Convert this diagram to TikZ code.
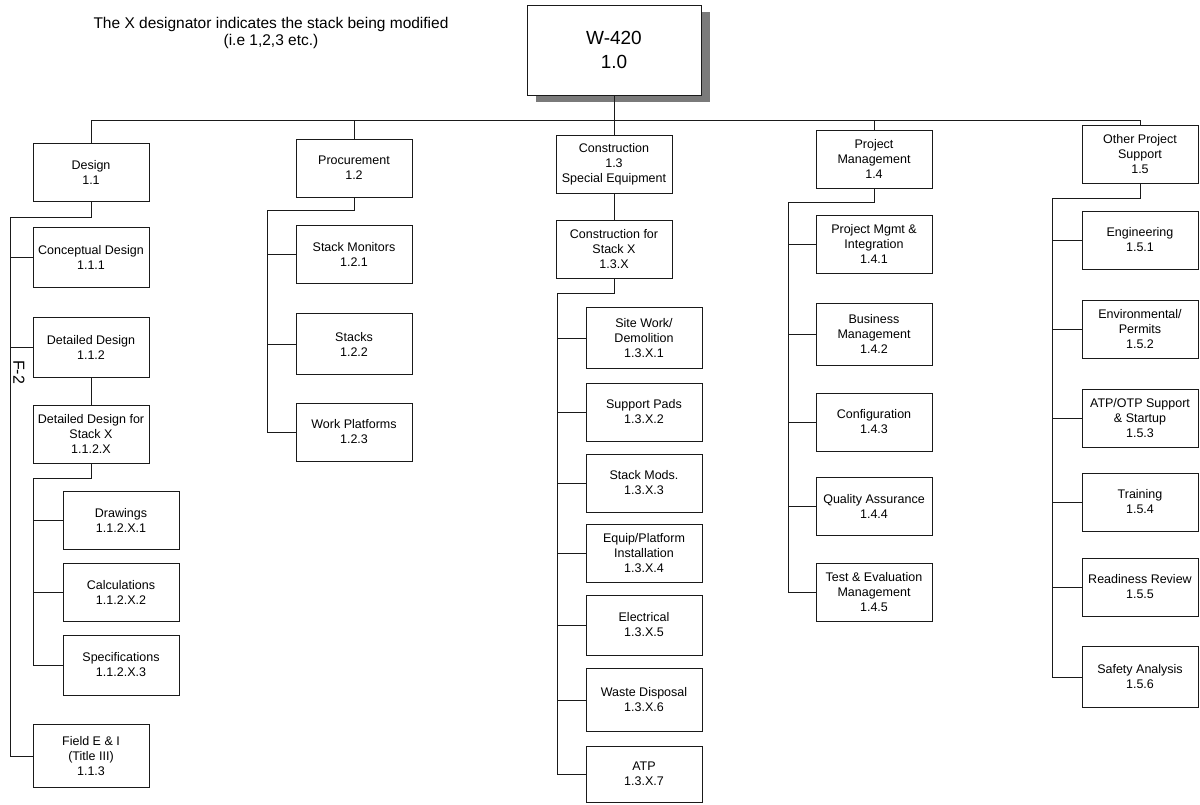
\documentclass[tikz,border=0pt]{standalone}
\usepackage{fontspec}
\setsansfont{Liberation Sans}
\usetikzlibrary{shadows}
\definecolor{inkline}{HTML}{1A1A1A}
\definecolor{shadegray}{HTML}{7A7A7A}
\tikzset{
  wbsbox/.style={rectangle, draw=inkline, fill=white, line width=0.9pt, minimum width=116pt, minimum height=58pt, inner sep=1pt, align=center, font=\sffamily\fontsize{12.5}{15}\selectfont},
  rootbox/.style={wbsbox, minimum width=174pt, minimum height=90pt, font=\sffamily\fontsize{19}{24}\selectfont, drop shadow={shadow xshift=9pt, shadow yshift=-7pt, fill=shadegray, opacity=1}},
  wbsline/.style={draw=inkline, line width=0.9pt},
  notetext/.style={align=center, font=\sffamily\fontsize{15.5}{17}\selectfont},
  sheetmark/.style={rotate=-90, font=\sffamily\fontsize{16}{16}\selectfont}
}
\newcommand{\drawDesign}{%
  \node[wbsbox] (d11) at (91,172) {Design\\1.1};
  \node[wbsbox, minimum height=60pt] (d111) at (91,257) {Conceptual Design\\1.1.1};
  \node[wbsbox, minimum height=60pt] (d112) at (91,347) {Detailed Design\\1.1.2};
  \node[wbsbox] (d112x) at (91,434) {Detailed Design for\\Stack X\\1.1.2.X};
  \node[wbsbox, minimum height=63pt] (d113) at (91,756) {Field E \& I\\(Title III)\\1.1.3};
  \node[wbsbox] (dx1) at (121,520) {Drawings\\1.1.2.X.1};
  \node[wbsbox] (dx2) at (121,592) {Calculations\\1.1.2.X.2};
  \node[wbsbox, minimum height=60pt] (dx3) at (121,665) {Specifications\\1.1.2.X.3};
  \coordinate (dtr) at (10,217);
  \coordinate (dxtr) at (33,478);
  \draw[wbsline] (d11.south) |- (dtr);
  \foreach \n in {d111,d112,d113} \draw[wbsline] (dtr) |- (\n.west);
  \draw[wbsline] (d112.south) -- (d112x.north);
  \draw[wbsline] (d112x.south) |- (dxtr);
  \foreach \n in {dx1,dx2,dx3} \draw[wbsline] (dxtr) |- (\n.west);
}
\newcommand{\drawProcurement}{%
  \node[wbsbox] (p12) at (354,168) {Procurement\\1.2};
  \node[wbsbox] (p121) at (354,254) {Stack Monitors\\1.2.1};
  \node[wbsbox, minimum height=61pt] (p122) at (354,344) {Stacks\\1.2.2};
  \node[wbsbox] (p123) at (354,432) {Work Platforms\\1.2.3};
  \coordinate (ptr) at (267,210);
  \draw[wbsline] (p12.south) |- (ptr);
  \foreach \n in {p121,p122,p123} \draw[wbsline] (ptr) |- (\n.west);
}
\newcommand{\drawConstruction}{%
  \node[wbsbox] (c13) at (614,164) {Construction\\1.3\\Special Equipment};
  \node[wbsbox] (c13x) at (614,249) {Construction for\\Stack X\\1.3.X};
  \node[wbsbox, minimum height=61pt] (c1) at (644,338) {Site Work/\\Demolition\\1.3.X.1};
  \node[wbsbox] (c2) at (644,412) {Support Pads\\1.3.X.2};
  \node[wbsbox] (c3) at (644,483) {Stack Mods.\\1.3.X.3};
  \node[wbsbox] (c4) at (644,553) {Equip/Platform\\Installation\\1.3.X.4};
  \node[wbsbox, minimum height=60pt] (c5) at (644,625) {Electrical\\1.3.X.5};
  \node[wbsbox, minimum height=63pt] (c6) at (644,700) {Waste Disposal\\1.3.X.6};
  \node[wbsbox, minimum height=56pt] (c7) at (644,774) {ATP\\1.3.X.7};
  \coordinate (ctr) at (557,293);
  \draw[wbsline] (c13.south) -- (c13x.north);
  \draw[wbsline] (c13x.south) |- (ctr);
  \foreach \n in {c1,c2,c3,c4,c5,c6,c7} \draw[wbsline] (ctr) |- (\n.west);
}
\newcommand{\drawManagement}{%
  \node[wbsbox] (m14) at (874,159) {Project\\Management\\1.4};
  \node[wbsbox] (m141) at (874,244) {Project Mgmt \&\\Integration\\1.4.1};
  \node[wbsbox, minimum height=62pt] (m142) at (874,334) {Business\\Management\\1.4.2};
  \node[wbsbox] (m143) at (874,422) {Configuration\\1.4.3};
  \node[wbsbox] (m144) at (874,506) {Quality Assurance\\1.4.4};
  \node[wbsbox] (m145) at (874,592) {Test \& Evaluation\\Management\\1.4.5};
  \coordinate (mtr) at (788,202);
  \draw[wbsline] (m14.south) |- (mtr);
  \foreach \n in {m141,m142,m143,m144,m145} \draw[wbsline] (mtr) |- (\n.west);
}
\newcommand{\drawSupport}{%
  \node[wbsbox] (o15) at (1140,154) {Other Project\\Support\\1.5};
  \node[wbsbox] (o151) at (1140,240) {Engineering\\1.5.1};
  \node[wbsbox] (o152) at (1140,329) {Environmental/\\Permits\\1.5.2};
  \node[wbsbox] (o153) at (1140,418) {ATP/OTP Support\\\& Startup\\1.5.3};
  \node[wbsbox] (o154) at (1140,502) {Training\\1.5.4};
  \node[wbsbox] (o155) at (1140,587) {Readiness Review\\1.5.5};
  \node[wbsbox, minimum height=61pt] (o156) at (1140,677) {Safety Analysis\\1.5.6};
  \coordinate (otr) at (1052,198);
  \draw[wbsline] (o15.south) |- (otr);
  \foreach \n in {o151,o152,o153,o154,o155,o156} \draw[wbsline] (otr) |- (\n.west);
}

\begin{document}
\begin{tikzpicture}[x=1pt,y=-1pt]
  \useasboundingbox (0,0) rectangle (1200,804);

  \node[notetext] (note) at (271,33) {The X designator indicates the stack being modified\\(i.e 1,2,3 etc.)};
  \node[rootbox] (root) at (614,50) {W-420\\1.0};
  \node[sheetmark] (sheet) at (19,372) {F-2};

  % level 1 bus
  \coordinate (bus) at (614,120);
  \drawDesign
  \drawProcurement
  \drawConstruction
  \drawManagement
  \drawSupport
  \draw[wbsline] (root.south) -- (bus);
  \foreach \n in {d11,p12,c13,m14,o15} \draw[wbsline] (bus) -| (\n.north);
\end{tikzpicture}
\end{document}
